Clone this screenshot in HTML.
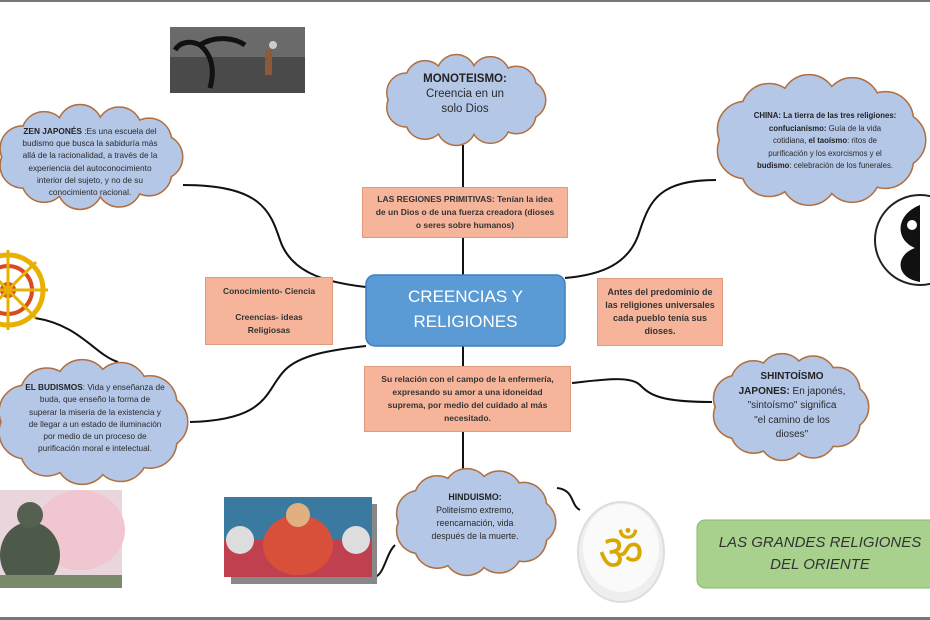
<!DOCTYPE html>
<html><head><meta charset="utf-8"><style>
body{margin:0;width:930px;height:620px;overflow:hidden;background:#fff;font-family:"Liberation Sans",sans-serif;}
#w{position:relative;width:930px;height:620px;}
svg{position:absolute;left:0;top:0;}
.t{position:absolute;text-align:center;color:#2a2a2a;font-size:8.3px;line-height:12px;white-space:nowrap;}
.box{position:absolute;background:#f6b59b;border:1px solid #e09a7c;box-sizing:border-box;display:flex;flex-direction:column;justify-content:center;align-items:center;text-align:center;font-weight:bold;color:#333;font-size:8.5px;line-height:13px;}
b{color:#222}
</style></head><body><div id="w">
<svg width="930" height="620" id="s">
<rect x="0" y="0" width="930" height="2" fill="#777"/>
<rect x="0" y="617" width="930" height="3" fill="#777"/>
<g fill="none" stroke="#111" stroke-width="2">
<path d="M463 145 V187 M463 238 V275 M463 346 V366 M463 432 V475"/>
<path d="M183 185 C260 185 270 210 280 240 C290 270 320 282 366 287"/>
<path d="M35 318 C80 325 95 355 118 362"/>
<path d="M190 422 C270 420 265 390 285 370 C300 355 330 350 366 346"/>
<path d="M716 180 C660 180 650 200 640 230 C630 265 600 275 565 278"/>
<path d="M712 402 C660 402 650 395 640 385 C630 375 600 380 572 383"/>
<path d="M557 488 C575 490 570 505 580 510"/>
<path d="M395 545 C385 555 385 575 373 578"/>
</g>
<g id="clouds"></g>
<rect x="170" y="27" width="135" height="66" fill="#4a4a4a"/>
<rect x="170" y="27" width="135" height="30" fill="#6a6a6a"/>
<path d="M210 88 C215 70 212 55 200 45 C190 40 180 42 175 50 M200 45 C215 35 235 38 245 45" stroke="#111" stroke-width="5" fill="none"/>
<rect x="265" y="50" width="7" height="25" fill="#8a5a3a"/>
<circle cx="273" cy="45" r="4" fill="#ccc"/>
<rect x="231" y="504" width="146" height="80" fill="#888"/>
<rect x="224" y="497" width="148" height="80" fill="#3a7aa0"/>
<rect x="224" y="540" width="148" height="37" fill="#c04050"/>
<ellipse cx="298" cy="545" rx="35" ry="30" fill="#d8503a"/>
<circle cx="298" cy="515" r="12" fill="#e0b080"/>
<circle cx="240" cy="540" r="14" fill="#ddd"/>
<circle cx="356" cy="540" r="14" fill="#ddd"/>
<rect x="0" y="490" width="122" height="98" fill="#e8d6dc"/>
<ellipse cx="80" cy="530" rx="45" ry="40" fill="#f0c6d0"/>
<ellipse cx="30" cy="555" rx="30" ry="33" fill="#4d5a4a"/>
<circle cx="30" cy="515" r="13" fill="#556050"/>
<rect x="0" y="575" width="122" height="13" fill="#7a8a6a"/>
<circle cx="8" cy="290" r="35" fill="none" stroke="#e8b000" stroke-width="5"/>
<circle cx="8" cy="290" r="24" fill="none" stroke="#d84a20" stroke-width="4"/>
<circle cx="8" cy="290" r="8" fill="#d84a20"/>
<g stroke="#e8b000" stroke-width="3"><path d="M8 250 V330 M-32 290 H48 M-20 262 L36 318 M36 262 L-20 318"/></g>
<circle cx="920" cy="240" r="45" fill="#fff" stroke="#222" stroke-width="2"/>
<path d="M920 205 C895 215 895 240 915 248 C895 255 895 278 920 282 Z" fill="#111"/>
<circle cx="912" cy="225" r="5" fill="#fff"/>
<ellipse cx="621" cy="552" rx="43" ry="50" fill="#eee" stroke="#ddd" stroke-width="2"/>
<ellipse cx="621" cy="548" rx="38" ry="44" fill="#fafafa"/>
<text x="621" y="570" font-size="50" fill="#d9a800" text-anchor="middle" font-family="DejaVu Sans">ॐ</text>
<rect x="697" y="520" width="240" height="68" rx="8" fill="#a9d18e" stroke="#8ab872"/>
<rect x="366" y="275" width="199" height="71" rx="9" fill="#5b9bd5" stroke="#3f7fbf" stroke-width="1.5"/>
</svg>
<div class="box" style="left:362px;top:187px;width:206px;height:51px;">LAS REGIONES PRIMITIVAS: Tenían la idea<br>de un Dios o de una fuerza creadora (dioses<br>o seres sobre humanos)</div>
<div class="box" style="left:205px;top:277px;width:128px;height:68px;">Conocimiento- Ciencia<br><br>Creencias- ideas<br>Religiosas</div>
<div class="box" style="left:597px;top:278px;width:126px;height:68px;font-size:9px;">Antes del predominio de<br>las religiones universales<br>cada pueblo tenía sus<br>dioses.</div>
<div class="box" style="left:364px;top:366px;width:207px;height:66px;">Su relación con el campo de la enfermería,<br>expresando su amor a una idoneidad<br>suprema, por medio del cuidado al más<br>necesitado.</div>
<div style="position:absolute;left:366px;top:284px;width:199px;text-align:center;color:#fff;font-size:17px;line-height:25px;">CREENCIAS Y<br>RELIGIONES</div>
<div class="t" style="left:395px;top:72px;width:140px;font-size:11.5px;line-height:15px;"><b>MONOTEISMO:</b><br>Creencia en un<br>solo Dios</div>
<div class="t" style="left:5px;top:125px;width:170px;font-size:8.3px;line-height:12.2px;"><b>ZEN JAPONÉS</b> :Es una escuela del<br>budismo que busca la sabiduría más<br>allá de la racionalidad, a través de la<br>experiencia del autoconocimiento<br>interior del sujeto, y no de su<br>conocimiento racional.</div>
<div class="t" style="left:10px;top:381px;width:170px;font-size:8.3px;line-height:12.3px;"><b>EL BUDISMOS</b>: Vida y enseñanza de<br>buda, que enseño la forma de<br>superar la miseria de la existencia y<br>de llegar a un estado de iluminación<br>por medio de un proceso de<br>purificación moral e intelectual.</div>
<div class="t" style="left:730px;top:110px;width:190px;font-size:7.8px;line-height:12.5px;"><b>CHINA: La tierra de las tres religiones:<br>confucianismo:</b> Guía de la vida<br>cotidiana, <b>el taoísmo</b>: ritos de<br>purificación y los exorcismos y el<br><b>budismo</b>: celebración de los funerales.</div>
<div class="t" style="left:722px;top:370px;width:140px;font-size:10px;line-height:14.5px;"><b>SHINTOÍSMO<br>JAPONES:</b> En japonés,<br>"sintoísmo" significa<br>"el camino de los<br>dioses"</div>
<div class="t" style="left:405px;top:491px;width:140px;font-size:8.8px;line-height:13px;"><b>HINDUISMO:</b><br>Politeísmo extremo,<br>reencarnación, vida<br>después de la muerte.</div>
<div style="position:absolute;left:700px;top:532px;width:240px;text-align:center;font-style:italic;color:#333;font-size:15px;line-height:22px;">LAS GRANDES RELIGIONES<br>DEL ORIENTE</div>
</div>
<script>
var C=[[465,100,80,45],[90,157,92,52],[92,422,95,62],[820,140,105,65],[790,407,78,53],[475,522,80,53]];
var g=document.getElementById('clouds'),h1='',h2='';
C.forEach(function(c){var cx=c[0],cy=c[1],rx=c[2],ry=c[3],n=11,r=ry*0.42,s='';
for(var i=0;i<n;i++){var a=i/n*2*Math.PI;var x=cx+(rx-r)*Math.cos(a),y=cy+(ry-r)*Math.sin(a);s+='<circle cx="'+x+'" cy="'+y+'" r="'+r+'"/>';}
s+='<ellipse cx="'+cx+'" cy="'+cy+'" rx="'+(rx-r)+'" ry="'+(ry-r)+'"/>';
h1+=s;h2+=s;});
g.innerHTML='<g fill="#b4c7e7" stroke="#b07040" stroke-width="3">'+h1+'</g><g fill="#b4c7e7">'+h2+'</g>';
</script>
</body></html>
